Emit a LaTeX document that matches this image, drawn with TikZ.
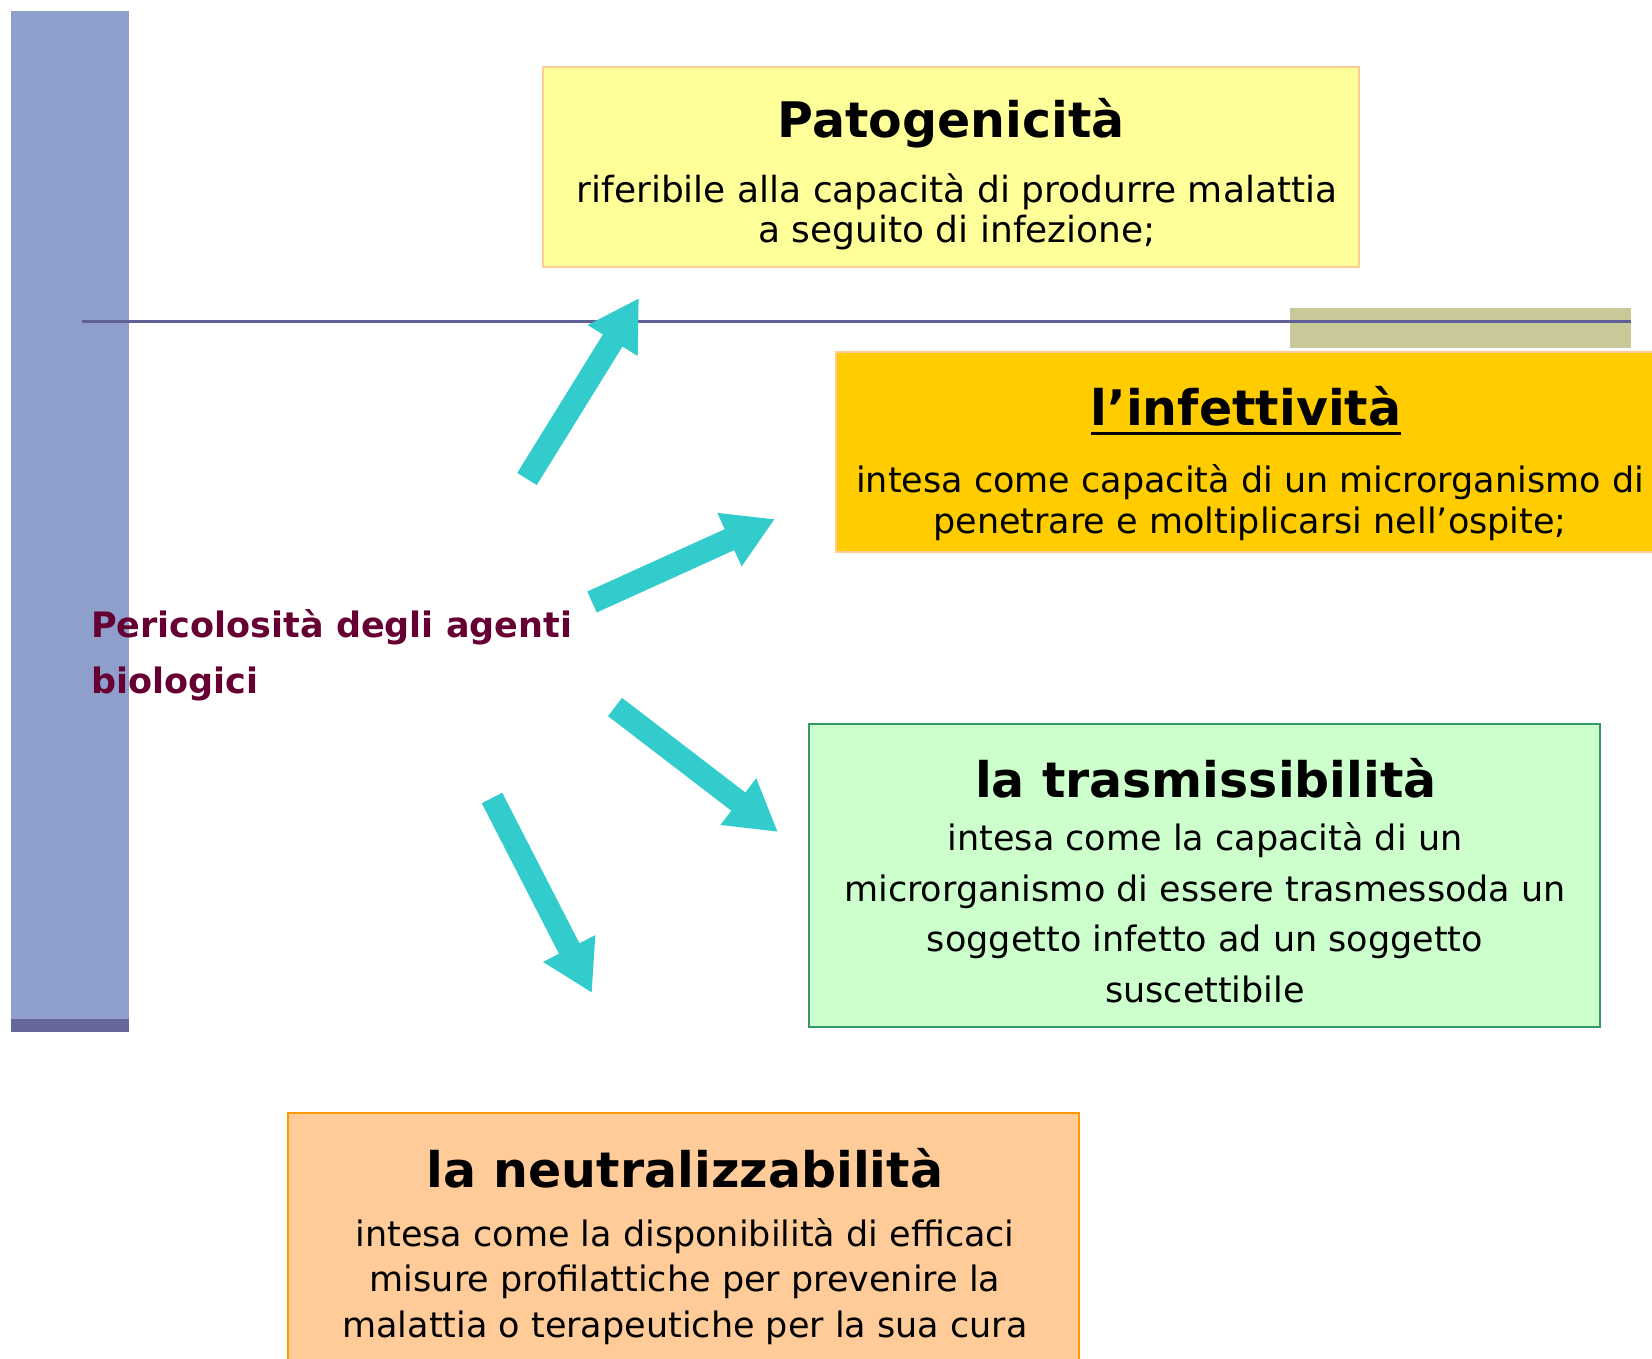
\documentclass[tikz,border=0pt]{standalone}
\usepackage{fontspec}
\setmainfont{DejaVu Sans}
\usepackage{tikz}
\usetikzlibrary{calc,arrows.meta}
\definecolor{barblue}{RGB}{143,159,203}
\definecolor{bardark}{RGB}{102,102,153}
\definecolor{rulecol}{RGB}{96,96,150}
\definecolor{olivebar}{RGB}{200,200,152}
\definecolor{arrowcyan}{RGB}{51,204,204}
\definecolor{labelred}{RGB}{102,0,51}
\definecolor{patofill}{RGB}{255,255,153}
\definecolor{patoline}{RGB}{255,204,153}
\definecolor{infefill}{RGB}{255,204,0}
\definecolor{trasfill}{RGB}{204,255,204}
\definecolor{trasline}{RGB}{51,153,102}
\definecolor{neutfill}{RGB}{255,204,153}
\definecolor{neutline}{RGB}{255,153,0}
\tikzstyle{colorbox}=[rectangle,line width=2pt,inner sep=0pt]
\tikzstyle{boxtitle}=[anchor=base,inner sep=0pt,font=\fontsize{49}{56}\selectfont\bfseries]
\tikzstyle{boxtext}=[anchor=base,inner sep=0pt,align=center]
\tikzstyle{fatarrow}=[draw=arrowcyan,line width=23pt,-{Triangle[width=55pt,length=50pt]}]
\newcommand\bodyfont[2]{\fontsize{#1}{#2}\selectfont}

\begin{document}
\begin{tikzpicture}[x=1pt,y=-1pt]
    \useasboundingbox (0,0) rectangle (1652,1358);
    \fill[barblue] (11,11) rectangle (129,1032);
    \fill[bardark] (11,1019) rectangle (129,1032);
    \fill[olivebar] (1290,308) rectangle (1631,348);
    \draw[rulecol,line width=3pt] (82,321) -- (1631,321);

    \node [colorbox,draw=patoline,fill=patofill,minimum width=816pt,minimum height=200pt] (pato) at (951,167) {};
    \node [boxtitle] (pato title) at (951,137) {Patogenicità};
    \node [boxtext,font=\bodyfont{36}{40}] (pato text) at (957,242) {riferibile alla capacità di produrre malattia\\a seguito di infezione;};

    \node [colorbox,draw=patoline,fill=infefill,minimum width=826pt,minimum height=200pt] (infe) at (1249,452) {};
    \node [boxtitle] (infe title) at (1246,425) {l'infettività};
    \draw [line width=3pt] ($(infe title.base west)+(0,8)$) -- ($(infe title.base east)+(0,8)$);
    \node [boxtext,font=\bodyfont{35}{41}] (infe text) at (1250,533) {intesa come capacità di un microrganismo di\\penetrare e moltiplicarsi nell'ospite;};

    \node [colorbox,draw=trasline,fill=trasfill,minimum width=791pt,minimum height=303pt] (tras) at (1204.5,875.5) {};
    \node [boxtitle] (tras title) at (1206,797) {la trasmissibilità};
    \node [boxtext,font=\bodyfont{35}{50.5}] (tras text) at (1205,1002) {intesa come la capacità di un\\microrganismo di essere trasmessoda un\\soggetto infetto ad un soggetto\\suscettibile};

    \node [colorbox,draw=neutline,fill=neutfill,minimum width=791pt,minimum height=287pt] (neut) at (683.5,1256.5) {};
    \node [boxtitle] (neut title) at (685,1187) {la neutralizzabilità};
    \node [boxtext,font=\bodyfont{35}{45.5}] (neut text) at (685,1337) {intesa come la disponibilità di efficaci\\misure profilattiche per prevenire la\\malattia o terapeutiche per la sua cura};

    \node [anchor=base west,inner sep=0pt,align=left,text=labelred,font=\fontsize{35}{56}\selectfont\bfseries] (peri) at (91,693) {Pericolosità degli agenti\\biologici};

    \coordinate (pato tail) at (527,479);
    \coordinate (pato tip) at (639,298);
    \coordinate (infe tail) at (592,602);
    \coordinate (infe tip) at (775,519);
    \coordinate (tras tail) at (615,707);
    \coordinate (tras tip) at (778,832);
    \coordinate (neut tail) at (492,798);
    \coordinate (neut tip) at (592,993);
    \draw [fatarrow] (pato tail) -- (pato tip);
    \draw [fatarrow] (infe tail) -- (infe tip);
    \draw [fatarrow] (tras tail) -- (tras tip);
    \draw [fatarrow] (neut tail) -- (neut tip);
\end{tikzpicture}
\end{document}
